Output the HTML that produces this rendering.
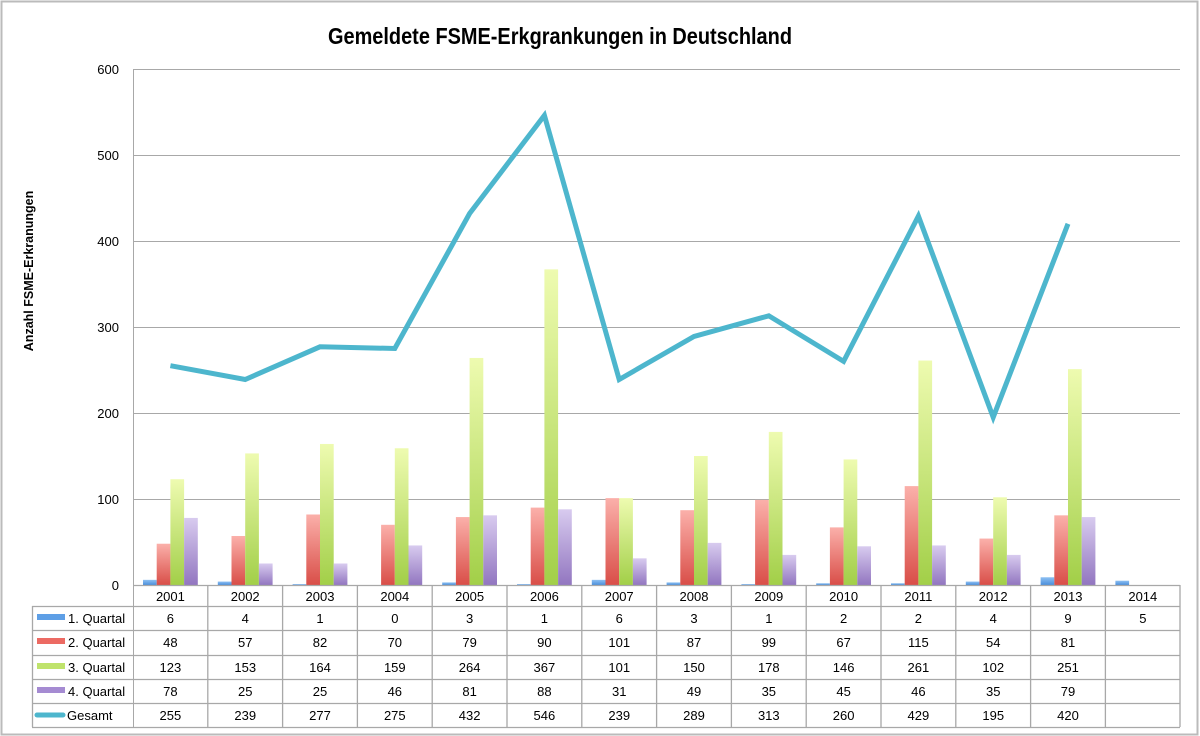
<!DOCTYPE html>
<html><head><meta charset="utf-8"><style>
html,body{margin:0;padding:0;background:#fff;}
svg{display:block;font-family:"Liberation Sans",sans-serif;}
</style></head><body>
<svg width="1200" height="736" viewBox="0 0 1200 736" xmlns="http://www.w3.org/2000/svg">
<defs>
<linearGradient id="gb" x1="0" y1="0" x2="0" y2="1"><stop offset="0" stop-color="#4a8fdc"/><stop offset="1" stop-color="#8ec0f2"/></linearGradient>
<linearGradient id="gr" x1="0" y1="0" x2="0" y2="1"><stop offset="0" stop-color="#d94e48"/><stop offset="1" stop-color="#fbb0aa"/></linearGradient>
<linearGradient id="gg" x1="0" y1="0" x2="0" y2="1"><stop offset="0" stop-color="#a2cf48"/><stop offset="1" stop-color="#eefbb0"/></linearGradient>
<linearGradient id="gp" x1="0" y1="0" x2="0" y2="1"><stop offset="0" stop-color="#9276c0"/><stop offset="1" stop-color="#d8cbef"/></linearGradient>
</defs>
<rect x="1.5" y="1.5" width="1196" height="733" fill="#fff" stroke="#bbb" stroke-width="2"/>
<text x="560" y="44" text-anchor="middle" font-size="23" font-weight="bold" textLength="464" lengthAdjust="spacingAndGlyphs">Gemeldete FSME-Erkgrankungen in Deutschland</text>
<text transform="translate(33,271) rotate(-90)" text-anchor="middle" font-size="12.5" font-weight="bold">Anzahl FSME-Erkranungen</text>
<g stroke="#a8a8a8" stroke-width="1">
<line x1="133" y1="69.5" x2="1180" y2="69.5"/>
<line x1="133" y1="155.5" x2="1180" y2="155.5"/>
<line x1="133" y1="241.5" x2="1180" y2="241.5"/>
<line x1="133" y1="327.5" x2="1180" y2="327.5"/>
<line x1="133" y1="413.5" x2="1180" y2="413.5"/>
<line x1="133" y1="499.5" x2="1180" y2="499.5"/>
<line x1="133.5" y1="69" x2="133.5" y2="727"/>
</g>
<g font-size="13" text-anchor="end">
<text x="119" y="74">600</text><text x="119" y="160">500</text><text x="119" y="246">400</text><text x="119" y="332">300</text><text x="119" y="418">200</text><text x="119" y="504">100</text><text x="119" y="590">0</text>
</g>
<g transform="translate(0,585) scale(1,-0.86)">
<g transform="translate(133,0)"><rect x="10" width="13.7" height="6" fill="url(#gb)"/><rect x="23.7" width="13.7" height="48" fill="url(#gr)"/><rect x="37.4" width="13.7" height="123" fill="url(#gg)"/><rect x="51.1" width="13.7" height="78" fill="url(#gp)"/></g>
<g transform="translate(207.8,0)"><rect x="10" width="13.7" height="4" fill="url(#gb)"/><rect x="23.7" width="13.7" height="57" fill="url(#gr)"/><rect x="37.4" width="13.7" height="153" fill="url(#gg)"/><rect x="51.1" width="13.7" height="25" fill="url(#gp)"/></g>
<g transform="translate(282.6,0)"><rect x="10" width="13.7" height="1" fill="url(#gb)"/><rect x="23.7" width="13.7" height="82" fill="url(#gr)"/><rect x="37.4" width="13.7" height="164" fill="url(#gg)"/><rect x="51.1" width="13.7" height="25" fill="url(#gp)"/></g>
<g transform="translate(357.4,0)"><rect x="23.7" width="13.7" height="70" fill="url(#gr)"/><rect x="37.4" width="13.7" height="159" fill="url(#gg)"/><rect x="51.1" width="13.7" height="46" fill="url(#gp)"/></g>
<g transform="translate(432.2,0)"><rect x="10" width="13.7" height="3" fill="url(#gb)"/><rect x="23.7" width="13.7" height="79" fill="url(#gr)"/><rect x="37.4" width="13.7" height="264" fill="url(#gg)"/><rect x="51.1" width="13.7" height="81" fill="url(#gp)"/></g>
<g transform="translate(507,0)"><rect x="10" width="13.7" height="1" fill="url(#gb)"/><rect x="23.7" width="13.7" height="90" fill="url(#gr)"/><rect x="37.4" width="13.7" height="367" fill="url(#gg)"/><rect x="51.1" width="13.7" height="88" fill="url(#gp)"/></g>
<g transform="translate(581.8,0)"><rect x="10" width="13.7" height="6" fill="url(#gb)"/><rect x="23.7" width="13.7" height="101" fill="url(#gr)"/><rect x="37.4" width="13.7" height="101" fill="url(#gg)"/><rect x="51.1" width="13.7" height="31" fill="url(#gp)"/></g>
<g transform="translate(656.6,0)"><rect x="10" width="13.7" height="3" fill="url(#gb)"/><rect x="23.7" width="13.7" height="87" fill="url(#gr)"/><rect x="37.4" width="13.7" height="150" fill="url(#gg)"/><rect x="51.1" width="13.7" height="49" fill="url(#gp)"/></g>
<g transform="translate(731.4,0)"><rect x="10" width="13.7" height="1" fill="url(#gb)"/><rect x="23.7" width="13.7" height="99" fill="url(#gr)"/><rect x="37.4" width="13.7" height="178" fill="url(#gg)"/><rect x="51.1" width="13.7" height="35" fill="url(#gp)"/></g>
<g transform="translate(806.2,0)"><rect x="10" width="13.7" height="2" fill="url(#gb)"/><rect x="23.7" width="13.7" height="67" fill="url(#gr)"/><rect x="37.4" width="13.7" height="146" fill="url(#gg)"/><rect x="51.1" width="13.7" height="45" fill="url(#gp)"/></g>
<g transform="translate(881,0)"><rect x="10" width="13.7" height="2" fill="url(#gb)"/><rect x="23.7" width="13.7" height="115" fill="url(#gr)"/><rect x="37.4" width="13.7" height="261" fill="url(#gg)"/><rect x="51.1" width="13.7" height="46" fill="url(#gp)"/></g>
<g transform="translate(955.8,0)"><rect x="10" width="13.7" height="4" fill="url(#gb)"/><rect x="23.7" width="13.7" height="54" fill="url(#gr)"/><rect x="37.4" width="13.7" height="102" fill="url(#gg)"/><rect x="51.1" width="13.7" height="35" fill="url(#gp)"/></g>
<g transform="translate(1030.6,0)"><rect x="10" width="13.7" height="9" fill="url(#gb)"/><rect x="23.7" width="13.7" height="81" fill="url(#gr)"/><rect x="37.4" width="13.7" height="251" fill="url(#gg)"/><rect x="51.1" width="13.7" height="79" fill="url(#gp)"/></g>
<g transform="translate(1105.4,0)"><rect x="10" width="13.7" height="5" fill="url(#gb)"/></g>
</g>
<polyline fill="none" stroke="#4db6cd" stroke-width="5" stroke-linejoin="miter" points="170.4,365.7 245.2,379.5 320,346.8 394.8,348.5 469.6,213.5 544.4,115.4 619.2,379.5 694,336.5 768.8,315.8 843.6,361.4 918.4,216.1 993.2,417.3 1068,223.8"/>
<g stroke="#a8a8a8" stroke-width="1.3" fill="none">
<line x1="133" y1="585.5" x2="1180" y2="585.5"/>
<line x1="32" y1="606.5" x2="1180" y2="606.5"/>
<line x1="32" y1="630.5" x2="1180" y2="630.5"/>
<line x1="32" y1="655.5" x2="1180" y2="655.5"/>
<line x1="32" y1="679.5" x2="1180" y2="679.5"/>
<line x1="32" y1="703.5" x2="1180" y2="703.5"/>
<line x1="32" y1="727.5" x2="1180" y2="727.5"/>
<line x1="32.5" y1="606" x2="32.5" y2="727"/>
<line x1="207.8" y1="585" x2="207.8" y2="727"/><line x1="282.6" y1="585" x2="282.6" y2="727"/><line x1="357.4" y1="585" x2="357.4" y2="727"/><line x1="432.2" y1="585" x2="432.2" y2="727"/><line x1="507" y1="585" x2="507" y2="727"/><line x1="581.8" y1="585" x2="581.8" y2="727"/><line x1="656.6" y1="585" x2="656.6" y2="727"/><line x1="731.4" y1="585" x2="731.4" y2="727"/><line x1="806.2" y1="585" x2="806.2" y2="727"/><line x1="881" y1="585" x2="881" y2="727"/><line x1="955.8" y1="585" x2="955.8" y2="727"/><line x1="1030.6" y1="585" x2="1030.6" y2="727"/><line x1="1105.4" y1="585" x2="1105.4" y2="727"/><line x1="1180" y1="585" x2="1180" y2="727"/>
</g>
<rect x="37" y="614" width="28" height="6" fill="#5e9fe6"/>
<rect x="37" y="638" width="28" height="6" fill="#ec6a63"/>
<rect x="37" y="663" width="28" height="6" fill="#bfe36c"/>
<rect x="37" y="687" width="28" height="6" fill="#a58bd2"/>
<line x1="37" y1="715" x2="63" y2="715" stroke="#4db6cd" stroke-width="5" stroke-linecap="round"/>
<g font-size="13">
<text x="68" y="623">1. Quartal</text>
<text x="68" y="647">2. Quartal</text>
<text x="68" y="672">3. Quartal</text>
<text x="68" y="696">4. Quartal</text>
<text x="67" y="720">Gesamt</text>
</g>
<g font-size="13" text-anchor="middle">
<g transform="translate(170.4,0)"><text y="601">2001</text><text y="623">6</text><text y="647">48</text><text y="672">123</text><text y="696">78</text><text y="720">255</text></g>
<g transform="translate(245.2,0)"><text y="601">2002</text><text y="623">4</text><text y="647">57</text><text y="672">153</text><text y="696">25</text><text y="720">239</text></g>
<g transform="translate(320,0)"><text y="601">2003</text><text y="623">1</text><text y="647">82</text><text y="672">164</text><text y="696">25</text><text y="720">277</text></g>
<g transform="translate(394.8,0)"><text y="601">2004</text><text y="623">0</text><text y="647">70</text><text y="672">159</text><text y="696">46</text><text y="720">275</text></g>
<g transform="translate(469.6,0)"><text y="601">2005</text><text y="623">3</text><text y="647">79</text><text y="672">264</text><text y="696">81</text><text y="720">432</text></g>
<g transform="translate(544.4,0)"><text y="601">2006</text><text y="623">1</text><text y="647">90</text><text y="672">367</text><text y="696">88</text><text y="720">546</text></g>
<g transform="translate(619.2,0)"><text y="601">2007</text><text y="623">6</text><text y="647">101</text><text y="672">101</text><text y="696">31</text><text y="720">239</text></g>
<g transform="translate(694,0)"><text y="601">2008</text><text y="623">3</text><text y="647">87</text><text y="672">150</text><text y="696">49</text><text y="720">289</text></g>
<g transform="translate(768.8,0)"><text y="601">2009</text><text y="623">1</text><text y="647">99</text><text y="672">178</text><text y="696">35</text><text y="720">313</text></g>
<g transform="translate(843.6,0)"><text y="601">2010</text><text y="623">2</text><text y="647">67</text><text y="672">146</text><text y="696">45</text><text y="720">260</text></g>
<g transform="translate(918.4,0)"><text y="601">2011</text><text y="623">2</text><text y="647">115</text><text y="672">261</text><text y="696">46</text><text y="720">429</text></g>
<g transform="translate(993.2,0)"><text y="601">2012</text><text y="623">4</text><text y="647">54</text><text y="672">102</text><text y="696">35</text><text y="720">195</text></g>
<g transform="translate(1068,0)"><text y="601">2013</text><text y="623">9</text><text y="647">81</text><text y="672">251</text><text y="696">79</text><text y="720">420</text></g>
<g transform="translate(1142.8,0)"><text y="601">2014</text><text y="623">5</text></g>
</g>
</svg>
</body></html>
